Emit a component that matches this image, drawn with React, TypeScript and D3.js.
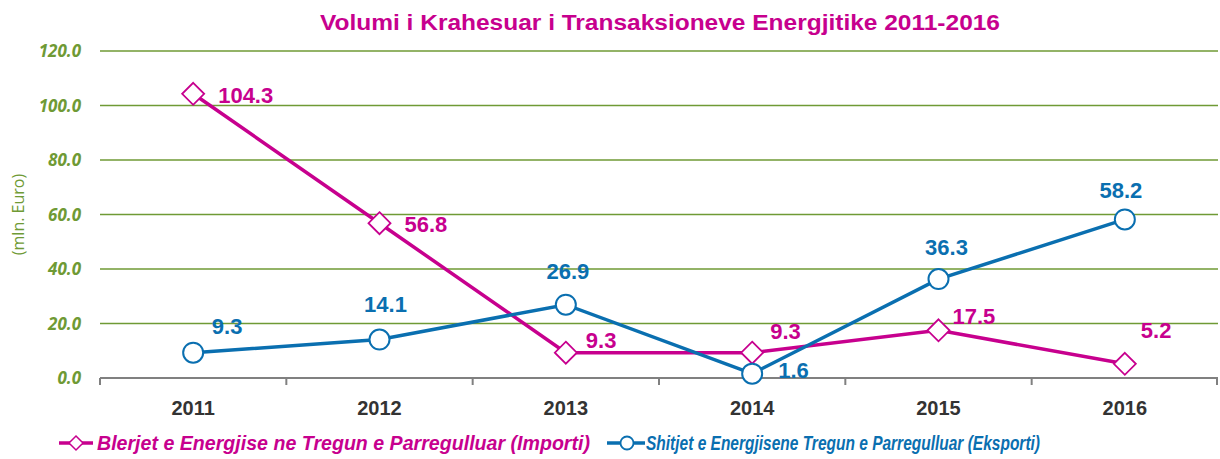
import React from "react";
import * as d3 from "d3";

const years = ["2011", "2012", "2013", "2014", "2015", "2016"];
const importi = [104.3, 56.8, 9.3, 9.3, 17.5, 5.2];
const eksporti = [9.3, 14.1, 26.9, 1.6, 36.3, 58.2];
const yTicks = [0, 20, 40, 60, 80, 100, 120];

const titleText = "Volumi i Krahesuar i Transaksioneve Energjitike 2011-2016";
const importName = "Blerjet e Energjise ne Tregun e Parregulluar (Importi)";
const exportName = "Shitjet e Energjisene Tregun e Parregulluar (Eksporti)";

// label placement relative to the point (dx, dy, anchor)
const importLabelPos: [number, number, string][] = [
  [25, 9, "start"], [25, 9, "start"], [20, -5, "start"], [18, -14, "start"], [14, -6, "start"], [16, -26, "start"],
];
const exportLabelPos: [number, number, string][] = [
  [34, -19, "middle"], [6, -28, "middle"], [2, -26, "middle"], [26, 4, "start"], [8, -24, "middle"], [-4, -21, "middle"],
];

const MAGENTA = "#c7008e";
const BLUE = "#0a6fb0";
const GREEN = "#6f9a35";
const W = 1220;
const H = 459;

export default function App() {
  const margin = { top: 51, right: 2, bottom: 81, left: 100 };
  const x = d3.scaleBand().domain(years).range([margin.left, W - margin.right]);
  const y = d3.scaleLinear().domain([0, 120]).range([H - margin.bottom, margin.top]);
  const cx = (d: string) => (x(d) ?? 0) + x.bandwidth() / 2;

  const line = d3.line<number>().x((d, i) => cx(years[i])).y((d) => y(d));
  const diamond = (px: number, py: number, r: number) =>
    `M${px},${py - r}L${px + r},${py}L${px},${py + r}L${px - r},${py}Z`;

  const base = y(0);
  const sans = "'Liberation Sans', Arial, sans-serif";
  const narrow = "'Liberation Sans Narrow', 'Liberation Sans', Arial, sans-serif";

  return (
    <svg width={W} height={H} style={{ position: "absolute", left: 0, top: 0 }}>
      <rect width={W} height={H} fill="#fff" />
      <text x={660} y={30} textAnchor="middle" fill={MAGENTA} fontFamily={narrow}
        fontWeight="bold" fontSize={22} textLength={680} lengthAdjust="spacingAndGlyphs">
        {titleText}
      </text>

      {yTicks.map((t) => (
        <g key={t}>
          {t > 0 && (
            <line x1={margin.left} x2={W - margin.right} y1={y(t)} y2={y(t)} stroke={GREEN} strokeWidth={1.6} />
          )}
          <text x={81} y={y(t) + 6} textAnchor="end" fill={GREEN} fontFamily="'Open Sans', sans-serif"
            fontStyle="italic" fontWeight="bold" fontSize={17}>
            {t.toFixed(1)}
          </text>
        </g>
      ))}
      <text transform={`translate(24,${y(60)}) rotate(-90)`} textAnchor="middle" fill={GREEN}
        fontFamily="'Open Sans', sans-serif" fontSize={16}>
        (mln. Euro)
      </text>

      <line x1={margin.left} x2={W - margin.right} y1={base} y2={base} stroke="#808080" strokeWidth={2} />
      {years.map((d) => x(d) ?? 0).concat([W - margin.right - 1]).map((px, i) => (
        <line key={i} x1={px} x2={px} y1={base} y2={base + 7} stroke="#808080" strokeWidth={2} />
      ))}
      {years.map((d) => (
        <text key={d} x={cx(d)} y={415} textAnchor="middle" fill="#333" fontFamily={sans}
          fontWeight="bold" fontSize={20}>
          {d}
        </text>
      ))}

      <path d={line(importi) ?? ""} fill="none" stroke={MAGENTA} strokeWidth={3.5} />
      <path d={line(eksporti) ?? ""} fill="none" stroke={BLUE} strokeWidth={3.5} />

      {importi.map((v, i) => (
        <path key={"im" + i} d={diamond(cx(years[i]), y(v), 11)} fill="#fff" stroke={MAGENTA} strokeWidth={1.8} />
      ))}
      {eksporti.map((v, i) => (
        <circle key={"ex" + i} cx={cx(years[i])} cy={y(v)} r={10} fill="#fff" stroke={BLUE} strokeWidth={2} />
      ))}

      {importi.map((v, i) => (
        <text key={"imL" + i} x={cx(years[i]) + importLabelPos[i][0]} y={y(v) + importLabelPos[i][1]}
          textAnchor={importLabelPos[i][2]} fill={MAGENTA} fontFamily={sans} fontWeight="bold" fontSize={22}>
          {v.toFixed(1)}
        </text>
      ))}
      {eksporti.map((v, i) => (
        <text key={"exL" + i} x={cx(years[i]) + exportLabelPos[i][0]} y={y(v) + exportLabelPos[i][1]}
          textAnchor={exportLabelPos[i][2]} fill={BLUE} fontFamily={sans} fontWeight="bold" fontSize={22}>
          {v.toFixed(1)}
        </text>
      ))}

      <g>
        <line x1={59} x2={93} y1={443} y2={443} stroke={MAGENTA} strokeWidth={3.5} />
        <path d={diamond(76, 443, 7)} fill="#fff" stroke={MAGENTA} strokeWidth={1.5} />
        <text x={97} y={450} fill={MAGENTA} fontFamily={narrow} fontStyle="italic" fontWeight="bold"
          fontSize={20} textLength={493} lengthAdjust="spacingAndGlyphs">
          {importName}
        </text>
        <line x1={607} x2={645} y1={443} y2={443} stroke={BLUE} strokeWidth={3.5} />
        <circle cx={627} cy={443} r={6.5} fill="#fff" stroke={BLUE} strokeWidth={1.8} />
        <text x={646} y={450} fill={BLUE} fontFamily={narrow} fontStyle="italic" fontWeight="bold"
          fontSize={20} textLength={394} lengthAdjust="spacingAndGlyphs">
          {exportName}
        </text>
      </g>
    </svg>
  );
}
